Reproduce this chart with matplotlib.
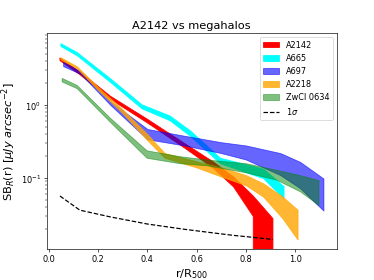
import numpy as np
import matplotlib
matplotlib.use("Agg")
from matplotlib import pyplot as plt

# A2142
x_a2142 = [0.045, 0.126, 0.25, 0.4, 0.55, 0.67, 0.75, 0.83, 0.91]
lo_a2142 = [4.05, 2.6, 1.2, 0.57, 0.26, 0.135, 0.076, 0.030, -0.01]
hi_a2142 = [4.4, 2.85, 1.32, 0.64, 0.30, 0.165, 0.104, 0.057, 0.028]

# A665
x_a665 = [0.047, 0.113, 0.25, 0.377, 0.49, 0.573, 0.695, 0.87, 0.953]
lo_a665 = [6.4, 4.8, 2.05, 0.9, 0.62, 0.38, 0.16, 0.1, 0.053]
hi_a665 = [7.0, 5.3, 2.3, 1.02, 0.72, 0.45, 0.19, 0.135, 0.078]

# A697
x_a697 = [0.058, 0.13, 0.25, 0.4, 0.55, 0.7, 0.8, 0.94, 1.02, 1.115]
lo_a697 = [3.4, 2.65, 1.0, 0.34, 0.28, 0.22, 0.18, 0.11, 0.073, 0.036]
hi_a697 = [3.9, 2.85, 1.12, 0.47, 0.38, 0.31, 0.28, 0.22, 0.167, 0.099]

# A2218
x_a2218 = [0.047, 0.113, 0.2, 0.3, 0.4, 0.47, 0.6, 0.7, 0.8, 0.87, 0.946, 1.01]
lo_a2218 = [4.2, 3.2, 1.6, 0.77, 0.33, 0.19, 0.14, 0.105, 0.08, 0.056, 0.029, 0.0145]
hi_a2218 = [4.5, 3.4, 1.75, 0.87, 0.4, 0.22, 0.17, 0.14, 0.11, 0.085, 0.057, 0.037]

# ZwCl 0634
x_zwcl = [0.052, 0.113, 0.25, 0.397, 0.53, 0.64, 0.8, 0.925, 1.02, 1.095]
lo_zwcl = [2.1, 1.7, 0.58, 0.19, 0.16, 0.15, 0.12, 0.095, 0.066, 0.043]
hi_zwcl = [2.35, 1.88, 0.66, 0.24, 0.2, 0.18, 0.16, 0.13, 0.11, 0.094]

# 1 sigma noise
x_sigma = [0.045, 0.126, 0.25, 0.4, 0.55, 0.67, 0.75, 0.83, 0.91]
sigma = [0.057, 0.0365, 0.0295, 0.0236, 0.020, 0.0178, 0.0165, 0.0155, 0.0145]

fig, ax = plt.subplots(figsize=(6.4, 4.8), dpi=58.44)

ax.fill_between(x_a2142, lo_a2142, hi_a2142, color="red", label="A2142")
ax.fill_between(x_a665, lo_a665, hi_a665, color="cyan", label="A665")
ax.fill_between(x_a697, lo_a697, hi_a697, color="blue", alpha=0.6, label="A697")
ax.fill_between(x_a2218, lo_a2218, hi_a2218, color="orange", alpha=0.8, label="A2218")
ax.fill_between(x_zwcl, lo_zwcl, hi_zwcl, color="green", alpha=0.5, label="ZwCl 0634")
ax.plot(x_sigma, sigma, "k--", label=r"1$\sigma$")

ax.set_yscale("log")
ax.set_ylim(0.0107, 9.6)
ax.set_xticks([0.0, 0.2, 0.4, 0.6, 0.8, 1.0])
ax.set_title("A2142 vs megahalos", fontsize=14)
ax.set_xlabel(r"r/R$_{500}$", fontsize=14)
ax.set_ylabel(r"SB$_R$(r) [$\mu Jy\ arcsec^{-2}$]", fontsize=14)
ax.legend(loc="upper right")

fig.savefig("out.png")
